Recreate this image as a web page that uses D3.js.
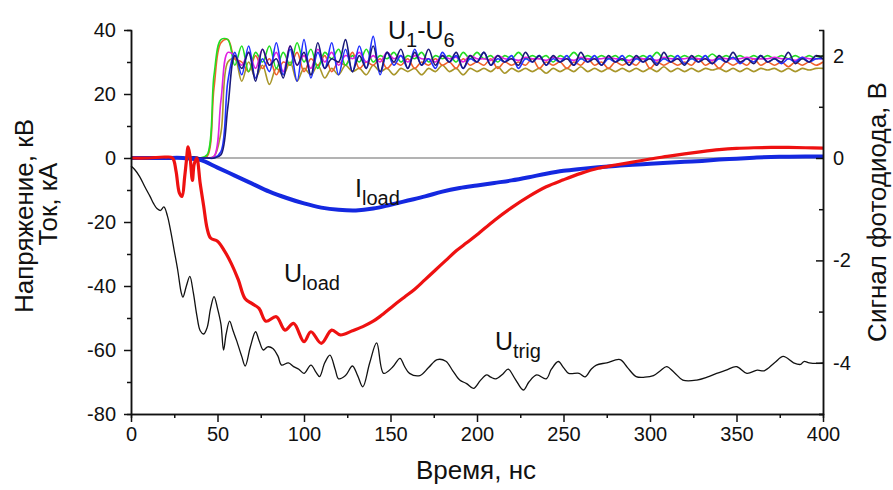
<!DOCTYPE html>
<html>
<head>
<meta charset="utf-8">
<script src="https://cdn.jsdelivr.net/npm/d3@7"></script>
<style>
  body { margin: 0; background: #fff; }
  text { font-family: "Liberation Sans", Arial, sans-serif; fill: #111; }
</style>
</head>
<body>
<svg width="893" height="490"></svg>
<script>
// U1-U6: pre-trigger baseline (t = 0..36, step 4) and signals from t = 40 ns, step 4 ns
var uLead = [0, 0.4, -0.3, 0.3, -0.4, 0.2, -0.3, 0.4, -0.2, 0.3];
var uStart = 40, uStep = 4;

var uGreen = [0, 1, 26, 37, 37, 29, 35, 27, 33, 30,
  35, 28, 33, 29, 36, 30, 34, 28, 33, 31,
  34, 29, 32, 30, 34, 30, 32, 31, 33, 30,
  32, 31, 33, 30, 32, 31, 32, 30, 33, 31,
  33, 31, 32, 30, 32, 31, 33, 31, 32, 31,
  32, 30, 32, 31, 33, 31, 32, 31, 32, 31,
  32, 30.5, 32, 31, 32, 31, 33, 31, 32, 31,
  32, 31, 32, 31, 32.5, 31, 32, 31, 32, 31,
  32, 31, 32, 31, 32, 31, 32, 31, 32, 31,
  32];
var uOrange = [0, 0.5, 22, 36, 37, 31, 30, 27, 32, 28,
  31, 26, 30, 29, 33, 27, 31, 29, 32, 27,
  30, 29, 33, 28, 30, 29, 31, 28, 30, 29,
  31, 28, 30, 29, 31, 29, 30, 28, 31, 29,
  30, 29, 31, 28, 30, 29, 30, 29, 31, 28,
  30, 29, 30, 28, 30, 29, 31, 29, 30, 28,
  30, 29, 30, 29, 31, 28, 30, 29, 30, 29,
  30, 29, 31, 29, 30, 28, 30, 29, 30, 29,
  31, 29, 30, 29, 30, 28.5, 30, 29, 30, 29,
  30];
var uOlive = [0, 0, 0.5, 8, 30, 31, 24, 30, 25, 29,
  23, 28, 26, 30, 24, 28, 26, 29, 25, 28,
  26, 29, 27, 28, 26, 29, 27, 28, 26, 28,
  27, 28, 26, 28, 27, 29, 27, 28, 26, 28,
  27, 28, 27, 28.5, 26.5, 28, 27, 28, 27, 28,
  26.5, 28, 27, 28, 27, 28.5, 27, 28, 27, 28,
  27, 28, 27, 28, 27, 28, 27, 28.5, 27, 28,
  27, 28, 27, 28, 27.5, 28, 27, 28, 27, 28,
  27, 28, 27.5, 28, 27, 28, 27, 28, 27.5, 28,
  28];
var uMagenta = [0, 0, 0.5, 18, 33, 32, 29, 33, 28, 34,
  29, 33, 27, 35, 29, 32, 28, 34, 30, 33,
  29, 32, 31, 33, 30, 32, 30, 33, 31, 32,
  30, 32, 31, 31, 30, 32, 31, 31.5, 30, 32,
  31, 31, 30.5, 32, 31, 31, 30.5, 31.5, 31, 31,
  30.5, 31.5, 31, 31, 30.5, 31.5, 31, 31, 31, 31.5,
  31, 31, 30.5, 31.5, 31, 31, 30.5, 31.5, 31, 31,
  31, 31.5, 31, 31, 30.5, 31.5, 31, 31, 31, 31.5,
  31, 31, 31, 31.5, 31, 31, 30.5, 31.5, 31, 31,
  31];
var uBlue = [0, 0, 0, 2, 24, 33, 26, 35, 25, 31,
  27, 36, 26, 34, 24, 37, 25, 33, 28, 36,
  26, 34, 27, 35, 28, 38, 26, 33, 29, 32,
  28, 34, 29, 31, 28, 33, 30, 32, 28, 31,
  30, 33, 29, 31, 30, 32, 28, 31, 30, 32,
  29, 31, 30, 32, 29, 31, 30, 32, 29, 31,
  30, 32, 29, 31, 30, 32, 29.5, 31, 30, 32,
  29.5, 31, 30, 32, 29.5, 31, 30, 31.5, 29.5, 31,
  30, 32, 30, 31, 29.5, 31, 30, 31.5, 30, 31,
  31];
var uNavy = [0, 0, 0, 1, 16, 32, 28, 33, 24, 34,
  29, 31, 25, 35, 29, 33, 26, 36, 28, 31,
  30, 37, 27, 32, 28, 35, 27, 33, 30, 34,
  28, 33, 29, 34, 29, 32, 30, 33, 28, 32,
  30, 33, 29, 32, 30, 31, 29, 33, 30, 32,
  29, 32, 30, 31, 29, 33, 30, 31, 29, 32,
  30, 31, 29, 32, 30, 31, 29, 33, 30, 31,
  29, 32, 30, 31, 29.5, 32, 30, 33, 30, 31,
  29.5, 32, 30, 31, 30, 33, 29.5, 31, 30, 32,
  31];

// I_load, every 10 ns from 0 to 400
var iLoad = [0, 0, 0, 0, -0.6, -3, -5.5, -8, -10.5, -12.5,
  -14.2, -15.5, -16.2, -16.4, -15.8, -14.6, -13.3, -12, -10.5, -9.4,
  -8.6, -7.8, -7, -6, -4.9, -4, -3.4, -2.9, -2.5, -2.1,
  -1.8, -1.5, -1.2, -0.9, -0.5, -0.2, 0.1, 0.3, 0.4, 0.5,
  0.5];

// U_load
var uLoadT = [0, 10, 20, 24, 26, 28, 29.5, 31, 32, 33, 34, 35.5, 36.5, 38, 40, 42, 44, 46, 50, 54,
  58, 62, 66, 70, 74, 78, 84, 89, 94, 100, 104, 110, 116, 121, 128, 134, 140, 144, 152, 158,
  164, 170, 176, 182, 188, 194, 200, 210, 220, 230, 240, 250, 260, 270, 280, 290, 300, 310, 320, 330,
  340, 350, 360, 370, 380, 390, 400];
var uLoadV = [0, 0, 0.3, 0, -4, -11, -12, -6, -1, 3.5, 1, -7, -2, 0, -8, -15, -22, -25, -26, -29,
  -33, -38, -44, -45.5, -47, -51, -49.6, -53.8, -51.7, -57.4, -54.3, -57.9, -53.8, -55.3, -54, -52.7, -51, -49.5, -46, -43.5,
  -41, -38, -35, -32, -29, -26.5, -24, -19.5, -15.5, -12, -9, -6.8, -4.8, -3.2, -2.2, -1.3, -0.3, 0.5, 1.3, 2,
  2.6, 3, 3.2, 3.3, 3.3, 3.2, 3.1];

// U_trig
var uTrigT = [0, 2, 5, 8, 11, 13, 15, 17, 19, 21, 23, 25, 27, 29, 30, 32, 34, 36, 38, 40,
  42, 44, 46, 48, 50, 52, 53.5, 55, 57, 59, 61, 64, 66, 69, 72, 74, 76.5, 79, 82, 85,
  87, 91, 94, 97, 100, 104, 107, 109, 112, 115, 118, 120, 124, 128, 131, 134, 138, 142, 146, 151,
  155.5, 158, 161, 167, 172, 177, 182, 186, 190, 194, 198, 202, 205.6, 208, 211, 215, 218, 222, 226.8, 230,
  234.5, 240, 243, 247, 250, 253, 259, 262.4, 266, 269, 275, 282.7, 287, 292, 297, 302, 306, 309.6, 314, 319,
  327, 333, 338.5, 344, 350, 356, 362, 366, 372, 377, 383, 387, 389, 392, 396, 400];
var uTrigV = [-2.5, -3.5, -5.8, -9, -12, -14.2, -15.8, -16.4, -15.3, -18, -23, -29, -35, -42, -43.5, -40, -37, -42, -49, -54,
  -55, -53, -47, -43.3, -47, -52, -60, -55, -51, -54, -57, -62, -65, -59, -54.3, -57, -60, -59, -59.5, -62,
  -64.7, -64, -65.2, -66, -67.3, -64.7, -67, -68.3, -64, -61.6, -66, -69, -68, -65, -68, -71.5, -64, -57.8, -67.3, -65.5,
  -62.6, -65, -67.3, -68, -65.5, -63, -63.5, -66.5, -69.4, -70.5, -72, -69.5, -67.8, -68.5, -69, -67.5, -66, -69, -72.5, -70,
  -67.8, -69, -66, -63.6, -65.5, -67.3, -67.3, -68.4, -66, -64.7, -64, -63, -65.5, -68.3, -68.5, -68, -66.5, -65.2, -67, -69.4,
  -69.4, -68.5, -67.3, -66.3, -65.2, -67.3, -66.3, -66.5, -64, -62, -64, -64.5, -63.6, -64, -64.2, -64];

var xTicks = [0, 50, 100, 150, 200, 250, 300, 350, 400];
var yTicks = [-80, -60, -40, -20, 0, 20, 40];
var rTicks = [-4, -2, 0, 2];

var svg = d3.select("svg");
var x = d3.scaleLinear().domain([0, 400]).range([131, 823]);
var y = d3.scaleLinear().domain([-80, 40]).range([414, 30]);
var yR = d3.scaleLinear().domain([-5, 2.5]).range([414, 30]);

// zero line
svg.append("line")
    .attr("x1", x(0)).attr("x2", x(400))
    .attr("y1", y(0)).attr("y2", y(0))
    .attr("stroke", "#9a9a9a").attr("stroke-width", 1.5);

function uPoints(vals) {
  var pts = uLead.map(function(v, i) { return [i * uStep, v]; });
  vals.forEach(function(v, i) { pts.push([uStart + i * uStep, v]); });
  return pts;
}

var smooth = d3.line()
    .x(function(d) { return x(d[0]); })
    .y(function(d) { return y(d[1]); })
    .curve(d3.curveCatmullRom.alpha(0.5));

var uSeries = [
  {vals: uOlive, color: "#a8962a"},
  {vals: uOrange, color: "#f0602a"},
  {vals: uGreen, color: "#22dd22"},
  {vals: uMagenta, color: "#e020e0"},
  {vals: uBlue, color: "#2030ff"},
  {vals: uNavy, color: "#1a1a7a"}
];

svg.append("g").selectAll("path")
  .data(uSeries)
  .enter().append("path")
    .attr("d", function(d) { return smooth(uPoints(d.vals)); })
    .attr("fill", "none")
    .attr("stroke", function(d) { return d.color; })
    .attr("stroke-width", 1.6);

// U_trig
svg.append("path")
    .attr("d", smooth(uTrigT.map(function(t, i) { return [t, uTrigV[i]]; })))
    .attr("fill", "none").attr("stroke", "#111").attr("stroke-width", 1.3);

// I_load
svg.append("path")
    .attr("d", smooth(iLoad.map(function(v, i) { return [i * 10, v]; })))
    .attr("fill", "none").attr("stroke", "#1428e0").attr("stroke-width", 4);

// U_load
svg.append("path")
    .attr("d", smooth(uLoadT.map(function(t, i) { return [t, uLoadV[i]]; })))
    .attr("fill", "none").attr("stroke", "#ee1111").attr("stroke-width", 3.2);

// axes
var fmt = function(d) { return String(d); };
function styleAxis(g) {
  g.selectAll(".domain").attr("stroke", "#111").attr("stroke-width", 1.5);
  g.selectAll(".tick line").attr("stroke", "#111").attr("stroke-width", 1.5);
  g.selectAll("text").style("font-size", "20px").attr("fill", "#222");
}

svg.append("g")
    .attr("transform", "translate(0," + y(-80) + ")")
    .call(d3.axisBottom(x).tickValues(d3.range(25, 400, 50)).tickSize(4).tickFormat(""))
    .call(styleAxis);
svg.append("g")
    .attr("transform", "translate(0," + y(-80) + ")")
    .call(d3.axisBottom(x).tickValues(xTicks).tickSize(8).tickSizeOuter(0).tickPadding(5).tickFormat(fmt))
    .call(styleAxis);

svg.append("g")
    .attr("transform", "translate(" + x(0) + ",0)")
    .call(d3.axisLeft(y).tickValues(d3.range(-70, 40, 20)).tickSize(4).tickFormat(""))
    .call(styleAxis);
svg.append("g")
    .attr("transform", "translate(" + x(0) + ",0)")
    .call(d3.axisLeft(y).tickValues(yTicks).tickSize(7).tickSizeOuter(0).tickPadding(8).tickFormat(fmt))
    .call(styleAxis);

svg.append("g")
    .attr("transform", "translate(" + x(400) + ",0)")
    .call(d3.axisRight(yR).tickValues([-5, -3, -1, 1]).tickSize(-4).tickFormat(""))
    .call(styleAxis);
svg.append("g")
    .attr("transform", "translate(" + x(400) + ",0)")
    .call(d3.axisRight(yR).tickValues(rTicks).tickSize(-7).tickSizeOuter(0).tickPadding(10).tickFormat(fmt))
    .call(styleAxis);

// axis titles
svg.append("text")
    .attr("x", 476).attr("y", 479)
    .attr("text-anchor", "middle").style("font-size", "26px")
    .text("Время, нс");
svg.append("text")
    .attr("transform", "translate(33,216) rotate(-90)")
    .attr("text-anchor", "middle").style("font-size", "26px")
    .text("Напряжение, кВ");
svg.append("text")
    .attr("transform", "translate(57,204) rotate(-90)")
    .attr("text-anchor", "middle").style("font-size", "26px")
    .text("Ток, кА");
svg.append("text")
    .attr("transform", "translate(886,212) rotate(-90)")
    .attr("text-anchor", "middle").style("font-size", "26px")
    .text("Сигнал фотодиода, В");

// curve labels with subscripts
function subLabel(px, py, parts) {
  var t = svg.append("text").attr("x", px).attr("y", py).style("font-size", "25px");
  var low = false;
  parts.forEach(function(p) {
    var dy = 0;
    if (p[1] && !low) dy = 8;
    if (!p[1] && low) dy = -8;
    low = !!p[1];
    t.append("tspan")
      .attr("dy", dy)
      .style("font-size", p[1] ? "20px" : "25px")
      .text(p[0]);
  });
}
subLabel(388, 39, [["U", 0], ["1", 1], ["-U", 0], ["6", 1]]);
subLabel(355, 197, [["I", 0], ["load", 1]]);
subLabel(284, 282, [["U", 0], ["load", 1]]);
subLabel(495, 350, [["U", 0], ["trig", 1]]);
</script>
</body>
</html>
